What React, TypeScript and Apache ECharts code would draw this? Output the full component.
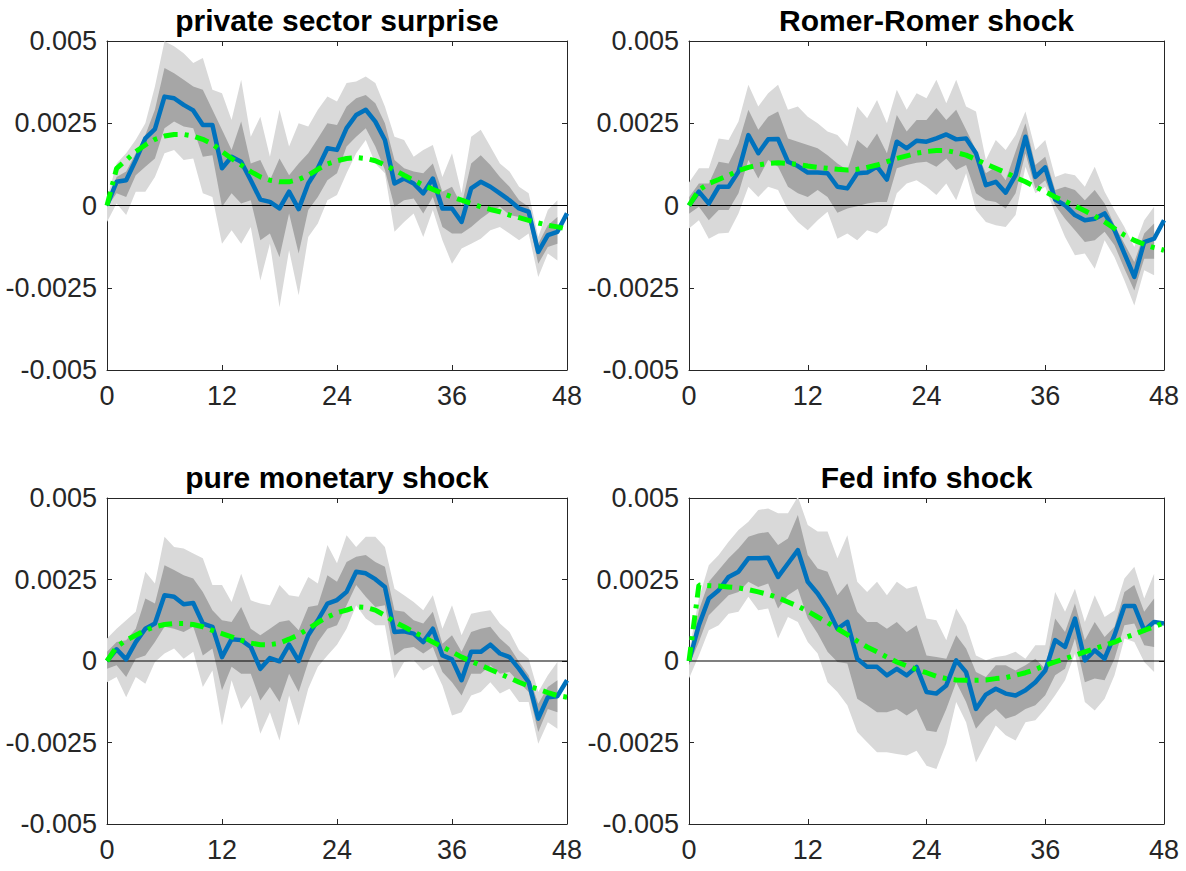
import React, { useEffect, useRef } from "react";
import * as echarts from "echarts";

// horizon (months) categories
const horizons: string[] = [
  "0","1","2","3","4","5","6","7","8","9","10","11","12","13","14","15","16","17","18","19","20","21","22","23","24",
  "25","26","27","28","29","30","31","32","33","34","35","36","37","38","39","40","41","42","43","44","45","46","47","48",
];
const yTickLabels = ["-0.005", "-0.0025", "0", "0.0025", "0.005"];
const titles = ["private sector surprise", "Romer-Romer shock", "pure monetary shock", "Fed info shock"];

// values in units of 1e-3
// panel 1: private sector surprise
const p1Blue = [0,0.72,0.77,1.38,2.04,2.32,3.31,3.26,3.06,2.89,2.45,2.45,1.13,1.48,1.33,0.77,0.18,0.11,-0.09,0.42,-0.11,0.67,1.13,1.74,1.69,2.35,2.75,2.91,2.55,1.99,0.67,0.82,0.67,0.37,0.82,-0.09,-0.09,-0.5,0.52,0.72,0.57,0.37,0.16,-0.09,-0.19,-1.41,-0.9,-0.8,-0.24];
const p1Green = [0,1.13,1.38,1.64,1.84,2.01,2.11,2.16,2.16,2.11,2.01,1.87,1.64,1.43,1.23,1.03,0.87,0.77,0.72,0.72,0.79,0.92,1.1,1.26,1.36,1.43,1.46,1.43,1.36,1.23,1.08,0.92,0.77,0.62,0.49,0.37,0.26,0.16,0.06,-0.04,-0.12,-0.19,-0.29,-0.37,-0.45,-0.53,-0.6,-0.65,-0.72];
const p1LightUp = [0.2,1.28,1.59,2.0,2.5,3.62,4.99,4.84,4.63,4.33,4.48,3.52,3.41,2.6,3.82,2.09,2.7,1.48,2.91,1.79,2.5,2.4,2.91,3.31,3.16,3.72,3.77,3.92,3.72,3.01,2.09,1.99,1.48,1.69,1.84,0.87,1.59,0.37,2.09,2.3,1.79,1.28,1.03,0.57,0.37,-0.96,-0.14,0.16];
const p1DarkUp = [0.05,0.87,1.03,1.59,2.14,2.91,4.18,4.02,3.82,3.62,3.52,2.91,2.3,1.69,2.55,1.28,1.38,0.77,1.43,0.92,1.28,1.59,2.04,2.5,2.45,3.01,3.26,3.36,3.11,2.5,1.38,1.13,1.03,0.98,1.28,0.42,0.57,0.01,1.28,1.53,1.23,0.87,0.57,0.16,-0.04,-1.16,-0.6,-0.35];
const p1DarkLow = [-0.05,0.37,0.26,0.92,1.18,1.43,2.35,2.55,2.4,2.35,1.48,1.53,-0.04,0.37,0.06,0.16,-1.06,-0.85,-1.57,-0.24,-1.46,-0.14,0.26,0.77,0.98,1.79,2.09,2.35,1.79,1.08,-0.04,0.16,0.21,-0.24,0.26,-0.65,-0.85,-0.85,-0.65,-0.4,-0.19,-0.04,-0.29,-0.35,-0.45,-1.77,-1.26,-1.16];
const p1LightLow = [-0.5,0.06,-0.29,0.42,0.42,0.87,1.59,1.69,1.38,1.43,0.37,0.26,-1.16,-0.75,-1.16,-0.65,-2.28,-1.16,-3.09,-1.36,-2.73,-0.96,-0.55,0.16,0.32,0.98,1.59,1.99,1.28,0.98,-0.8,-0.5,-0.24,-0.96,-0.14,-1.06,-1.77,-1.31,-1.16,-1.01,-0.75,-0.65,-0.85,-1.06,-0.85,-2.17,-1.46,-1.67];

// panel 2: Romer-Romer shock
const p2Blue = [0,0.42,0.06,0.57,0.57,1.03,2.14,1.59,2.01,2.02,1.33,1.2,1.0,1.0,0.98,0.57,0.52,0.98,1.0,1.18,0.79,1.94,1.74,1.97,1.94,2.04,2.16,2.01,2.04,1.59,0.62,0.72,0.39,0.92,2.09,0.87,1.16,0.18,0.01,-0.29,-0.45,-0.4,-0.24,-0.75,-1.46,-2.17,-1.11,-1.01,-0.45];
const p2Green = [0,0.47,0.67,0.79,0.92,1.06,1.16,1.23,1.28,1.3,1.28,1.25,1.2,1.16,1.13,1.1,1.08,1.1,1.16,1.23,1.33,1.43,1.51,1.59,1.64,1.67,1.67,1.61,1.53,1.4,1.26,1.13,1.0,0.85,0.72,0.57,0.42,0.26,0.13,-0.01,-0.16,-0.32,-0.5,-0.7,-0.9,-1.06,-1.18,-1.28,-1.36];
const p2LightUp = [0.7,1.13,1.13,2.04,1.99,2.55,3.67,3.01,3.41,3.67,2.91,3.01,2.7,2.5,2.25,2.14,1.79,3.01,2.65,3.21,2.5,3.52,2.91,3.41,3.26,3.82,3.11,3.82,3.01,2.86,1.38,1.99,1.69,2.14,2.86,1.69,1.99,0.87,0.98,0.92,0.57,1.18,0.42,-0.14,-0.65,-1.26,-0.45,-0.04];
const p2DarkUp = [0.25,0.67,0.67,1.33,1.28,1.89,2.91,2.3,2.7,2.86,2.04,1.94,1.84,1.74,1.53,1.28,1.08,1.99,1.74,2.19,1.59,2.75,2.25,2.6,2.6,2.96,2.6,2.91,2.3,1.69,0.98,1.18,0.77,1.64,2.5,1.23,1.48,0.47,0.57,0.47,0.16,0.47,0.06,-0.6,-1.16,-1.72,-0.85,-0.55];
const p2DarkLow = [-0.25,-0.04,-0.45,-0.14,-0.14,0.37,1.38,0.82,1.38,1.18,0.57,0.37,0.26,0.47,0.26,-0.22,-0.09,-0.02,0.06,0.11,0.11,1.13,1.23,1.3,1.33,1.18,1.43,1.08,1.23,0.37,0.16,0.11,-0.09,0.37,1.59,0.52,0.77,0.01,-0.4,-0.75,-1.11,-1.06,-0.8,-1.21,-1.92,-2.58,-1.62,-1.62];
const p2LightLow = [-0.7,-0.45,-1.01,-0.85,-0.83,-0.24,0.57,0.26,0.57,0.47,-0.14,-0.5,-0.75,-0.45,-0.19,-1.01,-0.85,-1.06,-0.75,-0.85,-0.6,0.37,0.67,0.77,0.57,0.32,0.67,0.16,0.98,-0.14,-0.5,-0.6,-0.65,-0.29,1.18,0.37,0.57,-0.24,-0.96,-1.51,-1.46,-1.92,-1.06,-1.57,-2.28,-3.04,-1.97,-2.12];

// panel 3: pure monetary shock
const p3Blue = [0,0.36,0.05,0.58,0.99,1.15,2.02,1.97,1.74,1.78,1.15,1.05,0.12,0.67,0.64,0.43,-0.24,0.09,-0.01,0.5,0.0,0.79,1.25,1.76,1.87,2.12,2.74,2.69,2.51,2.27,0.89,0.91,0.84,0.58,0.99,0.17,0.05,-0.59,0.28,0.28,0.5,0.23,0.12,-0.24,-0.65,-1.77,-1.11,-1.08,-0.59];
const p3Green = [0,0.43,0.64,0.79,0.94,1.05,1.12,1.15,1.15,1.12,1.05,0.94,0.84,0.74,0.64,0.55,0.5,0.5,0.55,0.67,0.81,0.99,1.18,1.35,1.48,1.56,1.66,1.64,1.56,1.4,1.2,1.05,0.89,0.74,0.58,0.43,0.28,0.12,-0.01,-0.13,-0.26,-0.39,-0.52,-0.65,-0.77,-0.87,-0.97,-1.06,-1.11];
const p3LightUp = [0.69,0.99,1.25,1.51,2.74,2.38,3.81,3.5,3.45,3.3,3.15,2.33,2.33,1.81,2.68,1.86,1.76,1.71,2.33,2.02,1.97,2.58,2.38,3.56,3.0,3.86,3.5,3.81,3.81,3.5,2.22,2.02,1.81,1.56,2.02,0.99,1.71,0.79,1.45,1.51,1.56,1.15,0.89,0.33,0.07,-0.95,-0.44,-0.03];
const p3DarkUp = [0.28,0.58,0.64,0.99,1.92,1.76,2.94,2.79,2.63,2.53,2.12,1.56,1.25,1.2,1.66,0.99,0.79,0.99,1.2,1.25,0.94,1.66,1.71,2.63,2.43,3.04,3.2,3.25,3.04,2.89,1.56,1.51,1.25,1.15,1.51,0.53,0.79,0.28,0.89,0.99,1.05,0.69,0.43,-0.03,-0.44,-1.31,-0.8,-0.59];
const p3DarkLow = [-0.24,-0.13,-0.49,0.07,0.17,0.58,1.05,0.99,0.89,1.05,0.17,0.38,-0.9,-0.18,-0.39,-0.39,-1.21,-0.8,-1.26,-0.39,-0.95,-0.03,0.58,0.99,1.1,1.71,2.33,1.97,1.66,1.71,0.17,0.38,0.43,0.23,0.43,-0.34,-0.65,-1.06,-0.39,-0.39,-0.13,-0.39,-0.34,-0.65,-0.95,-2.18,-1.47,-1.57];
const p3LightLow = [-0.65,-0.49,-1.11,-0.49,-0.7,-0.03,0.23,0.38,0.07,0.28,-0.8,-0.29,-1.98,-0.59,-1.47,-1.06,-2.23,-1.57,-2.44,-1.06,-1.98,-0.85,-0.18,0.17,0.5,0.99,1.71,1.3,1.1,1.1,-0.54,-0.03,0.02,-0.29,-0.13,-0.75,-1.67,-1.57,-1.06,-0.95,-0.65,-1.0,-0.85,-1.26,-1.26,-2.54,-1.88,-2.08];

// panel 4: Fed info shock
const p4Blue = [0,1.1,1.92,2.17,2.58,2.74,3.15,3.15,3.17,2.58,2.99,3.4,2.43,2.07,1.61,0.99,1.2,0.07,-0.18,-0.18,-0.44,-0.24,-0.44,-0.18,-0.95,-1.0,-0.75,0.02,-0.34,-1.47,-1.03,-0.85,-1.0,-1.06,-0.9,-0.65,-0.29,0.64,0.43,1.3,0.02,0.33,0.07,0.79,1.69,1.69,0.94,1.2,1.15];
const p4Green = [0,2.33,2.31,2.3,2.27,2.24,2.19,2.12,2.04,1.94,1.81,1.68,1.53,1.35,1.18,0.99,0.81,0.61,0.43,0.28,0.12,-0.03,-0.15,-0.26,-0.36,-0.47,-0.54,-0.58,-0.59,-0.59,-0.58,-0.54,-0.51,-0.44,-0.36,-0.26,-0.13,-0.03,0.07,0.17,0.28,0.38,0.48,0.58,0.71,0.82,0.94,1.05,1.17];
const p4LightUp = [0.28,1.92,2.94,3.25,3.66,4.02,4.27,4.63,4.68,4.53,4.53,5.04,4.17,3.97,3.97,3.15,3.86,2.43,2.12,2.43,2.02,2.43,2.22,2.3,1.3,1.25,0.64,1.61,1.1,0.17,0.02,0.12,0.17,0.28,0.07,0.48,0.48,2.12,1.51,2.22,1.2,2.02,1.35,1.55,2.53,2.89,1.92,2.68];
const p4DarkUp = [0.07,1.56,2.43,2.79,3.15,3.45,3.81,3.91,3.96,3.56,3.76,4.48,3.25,2.84,2.74,2.02,2.38,1.51,1.2,1.2,0.99,1.2,0.89,1.1,0.17,0.12,0.07,0.79,0.38,-0.34,-0.49,-0.13,-0.13,-0.29,-0.13,0.07,-0.24,1.3,0.89,1.76,0.64,1.2,0.74,1.05,2.12,2.33,1.51,1.92];
const p4DarkLow = [-0.13,0.58,1.4,1.71,2.02,2.12,2.43,2.27,2.38,1.61,2.02,2.22,1.3,0.84,0.28,-0.03,-0.08,-1.16,-1.36,-1.57,-1.57,-1.47,-1.67,-1.47,-2.13,-2.18,-1.47,-0.65,-1.26,-2.08,-1.72,-1.47,-1.77,-1.67,-1.47,-1.36,-1.05,-0.44,-0.24,0.69,-0.65,-0.54,-0.59,0.07,1.1,1.15,0.48,0.43];
const p4LightLow = [-0.54,0.17,0.94,1.1,1.45,1.51,1.97,1.56,1.61,0.69,1.35,1.2,0.58,0.23,-0.65,-0.95,-1.36,-2.18,-2.49,-2.8,-2.8,-2.85,-2.9,-2.75,-3.21,-3.31,-2.54,-1.26,-1.88,-3.11,-2.54,-1.98,-2.28,-2.44,-1.88,-1.82,-1.47,-1.05,-0.59,0.23,-1.26,-1.52,-1.16,-0.44,0.69,0.58,-0.03,-0.34];

const panels = [
  { blue: p1Blue, green: p1Green, lu: p1LightUp, du: p1DarkUp, dl: p1DarkLow, ll: p1LightLow },
  { blue: p2Blue, green: p2Green, lu: p2LightUp, du: p2DarkUp, dl: p2DarkLow, ll: p2LightLow },
  { blue: p3Blue, green: p3Green, lu: p3LightUp, du: p3DarkUp, dl: p3DarkLow, ll: p3LightLow },
  { blue: p4Blue, green: p4Green, lu: p4LightUp, du: p4DarkUp, dl: p4DarkLow, ll: p4LightLow },
];

const grids = [
  { left: 107, top: 41, width: 460, height: 329 },
  { left: 689, top: 41, width: 475, height: 329 },
  { left: 107, top: 498, width: 460, height: 326 },
  { left: 689, top: 498, width: 475, height: 326 },
];

const FONT = "'Liberation Sans', Arial, Helvetica, sans-serif";
const AXIS = "#262626";
const scale = (a: number[]) => a.map((v) => v / 1000);

export default function App() {
  const ref = useRef<HTMLDivElement>(null);
  useEffect(() => {
    if (!ref.current) return;
    const chart = echarts.init(ref.current, undefined, { renderer: "svg" });
    const tickInt = (idx: number) => idx % 12 === 0;
    const xAxis: any[] = [];
    const yAxis: any[] = [];
    const series: any[] = [];
    const graphic: any[] = [];
    grids.forEach((g, p) => {
      const common = {
        type: "category",
        gridIndex: p,
        data: horizons,
        boundaryGap: false,
        axisLine: { show: true, onZero: false, lineStyle: { color: AXIS, width: 1 } },
        axisTick: { show: true, inside: true, length: 5, interval: tickInt, lineStyle: { color: AXIS } },
        splitLine: { show: false },
      };
      xAxis.push({
        ...common,
        position: "bottom",
        axisLabel: { interval: tickInt, fontSize: 27, fontFamily: FONT, color: AXIS, margin: 12 },
      });
      xAxis.push({ ...common, position: "top", axisLabel: { show: false } });
      const ycommon = {
        type: "value",
        gridIndex: p,
        min: -0.005,
        max: 0.005,
        interval: 0.0025,
        axisLine: { show: true, onZero: false, lineStyle: { color: AXIS, width: 1 } },
        axisTick: { show: true, inside: true, length: 5, lineStyle: { color: AXIS } },
        splitLine: { show: false },
      };
      yAxis.push({
        ...ycommon,
        position: "left",
        axisLabel: {
          fontSize: 27,
          fontFamily: FONT,
          color: AXIS,
          margin: 10,
          formatter: (v: number) => yTickLabels[Math.round(v / 0.0025) + 2],
        },
      });
      yAxis.push({ ...ycommon, position: "right", axisLabel: { show: false } });

      const d = panels[p];
      const ax = { xAxisIndex: p * 2, yAxisIndex: p * 2 };
      const lu = scale(d.lu), ll = scale(d.ll), du = scale(d.du), dl = scale(d.dl);
      const base = { type: "line", symbol: "none", silent: true, stackStrategy: "all", ...ax };
      series.push({ ...base, stack: "light" + p, data: ll, lineStyle: { width: 0, opacity: 0 } });
      series.push({
        ...base,
        stack: "light" + p,
        data: lu.map((v, i) => v - ll[i]),
        lineStyle: { width: 0, opacity: 0 },
        areaStyle: { color: "#d9d9d9", opacity: 1 },
      });
      series.push({ ...base, stack: "dark" + p, data: dl, lineStyle: { width: 0, opacity: 0 } });
      series.push({
        ...base,
        stack: "dark" + p,
        data: du.map((v, i) => v - dl[i]),
        lineStyle: { width: 0, opacity: 0 },
        areaStyle: { color: "#a6a6a6", opacity: 1 },
      });
      series.push({
        type: "line",
        symbol: "none",
        silent: true,
        ...ax,
        data: horizons.map(() => 0),
        lineStyle: { color: "#000000", width: 1.2 },
      });
      series.push({
        type: "line",
        symbol: "none",
        silent: true,
        ...ax,
        data: scale(d.blue),
        lineStyle: { color: "#0072BD", width: 4.5, join: "round" },
      });
      series.push({
        type: "line",
        symbol: "none",
        silent: true,
        ...ax,
        data: scale(d.green),
        lineStyle: { color: "#00FF00", width: 5, type: [14, 7, 4, 7] },
      });
      graphic.push({
        type: "text",
        x: g.left + g.width / 2,
        y: g.top - 21,
        style: {
          text: titles[p],
          font: `bold 30px ${FONT}`,
          fill: "#000000",
          align: "center",
          verticalAlign: "middle",
          textAlign: "center",
          textVerticalAlign: "middle",
        },
      });
    });
    chart.setOption({
      animation: false,
      backgroundColor: "#ffffff",
      grid: grids.map((g) => ({ ...g, containLabel: false })),
      xAxis,
      yAxis,
      series,
      graphic,
    });
    return () => chart.dispose();
  }, []);
  return <div ref={ref} style={{ position: "fixed", left: 0, top: 0, width: 1186, height: 871 }} />;
}
